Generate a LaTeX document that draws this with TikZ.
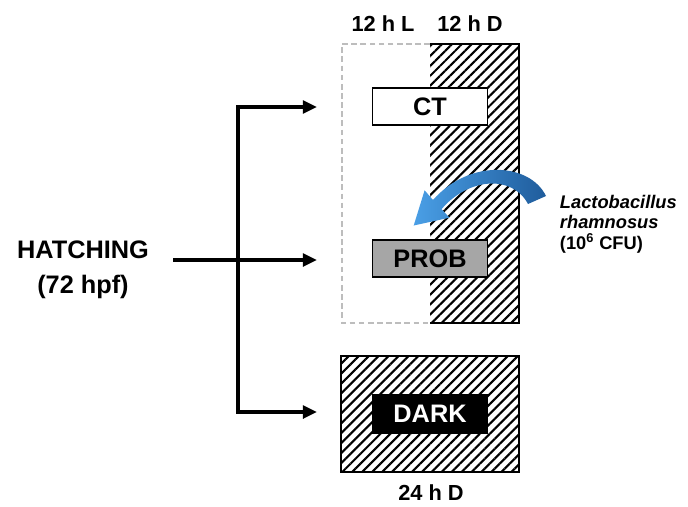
\documentclass[tikz,border=0pt]{standalone}
\usepackage{fontspec}
\setmainfont{Liberation Sans}
\usepackage{xcolor}
\definecolor{lightedge}{HTML}{BDBDBD}
\definecolor{probgray}{HTML}{A6A6A6}
\definecolor{bluelight}{HTML}{4A9FE6}
\definecolor{bluedark}{HTML}{1F5C9C}
\usepackage{tikz}
\usetikzlibrary{arrows.meta,patterns.meta,positioning,calc}
\tikzset{
  lbl/.style={font=\fontsize{18}{25}\selectfont\bfseries, align=center},
  hdr/.style={font=\fontsize{15.5}{17}\selectfont\bfseries},
  halfL/.style={rectangle, inner sep=0pt, outer sep=0pt,
               minimum width=2.2cm, minimum height=6.975cm},
  halfD/.style={rectangle, inner sep=0pt, outer sep=0pt,
               minimum width=2.225cm, minimum height=6.975cm,
               pattern={Lines[angle=45,distance=5pt,line width=1.5pt]}},
  fullD/.style={rectangle, draw, line width=1.4pt, inner sep=0pt, outer sep=0pt,
               minimum width=4.45cm, minimum height=2.9cm,
               pattern={Lines[angle=45,distance=5pt,line width=1.5pt]}},
  grp/.style={rectangle, draw, line width=1.2pt, inner sep=0pt,
               minimum width=2.875cm, minimum height=0.925cm,
               font=\fontsize{18}{20}\selectfont\bfseries},
  flow/.style={line width=2.6pt, -{Triangle[length=10pt,width=9pt]}},
  flowtwo/.style={line width=2.6pt,
               {Triangle[length=10pt,width=9pt]}-{Triangle[length=10pt,width=9pt]}},
}

\begin{document}
\begin{tikzpicture}[x=0.025cm, y=-0.025cm]
  \useasboundingbox (0,0) rectangle (688,506);

  % light / dark cycle
  \node[halfL] (light) at (386,183.5) {};
  \node[halfD, right=0pt of light] (darkhalf) {};
  \draw[lightedge, dashed, line width=1pt, dash pattern=on 4pt off 2.5pt]
    (light.north east) -- (light.north west) -- (light.south west) -- (light.south east);
  \draw[line width=1.4pt]
    (darkhalf.north west) -- (darkhalf.north east) -- (darkhalf.south east) -- (darkhalf.south west);
  \node[fullD, below=0.825cm of light.south east] (allD) {};

  \node[hdr] (hL)  at (383,24)  {12 h L};
  \node[hdr] (hD)  at (470,24)  {12 h D};
  \node[hdr] (h24) at (431,493) {24 h D};

  \node[grp, fill=white]     (ct)   at (430,106.5) {CT};
  \node[grp, fill=probgray]  (prob) at (430,258.5) {PROB};
  \node[grp, fill=black, text=white, minimum height=0.95cm] (dk) at (allD) {DARK};

  \node[lbl] (hatch) at (83,270) {HATCHING\\(72 hpf)};
  \node[font=\fontsize{13}{14.5}\selectfont\bfseries, align=left, anchor=west]
    (lacto) at (555,224) {\textit{Lactobacillus}\\\textit{rhamnosus}\\(10\textsuperscript{6} CFU)};

  \coordinate (fork)   at (238,260);
  \coordinate (hstart) at (173,260);
  \coordinate (toCT)   at (317,107);
  \coordinate (toPROB) at (317,260);
  \coordinate (toDARK) at (317,412);

  \draw[flowtwo] (toDARK) -| (fork) |- (toCT);
  \draw[flow] (hstart) -- (toPROB);

  % probiotic arrow
  \shade[left color=bluelight, right color=bluedark]
    (546,196) .. controls (530,163) and (470,158) .. (433,200)
    -- (424.6,190.3) -- (413.7,225.5) -- (449.4,217.7) -- (441.6,209.1)
    .. controls (468,178) and (512,174) .. (528,204) -- cycle;
\end{tikzpicture}
\end{document}
